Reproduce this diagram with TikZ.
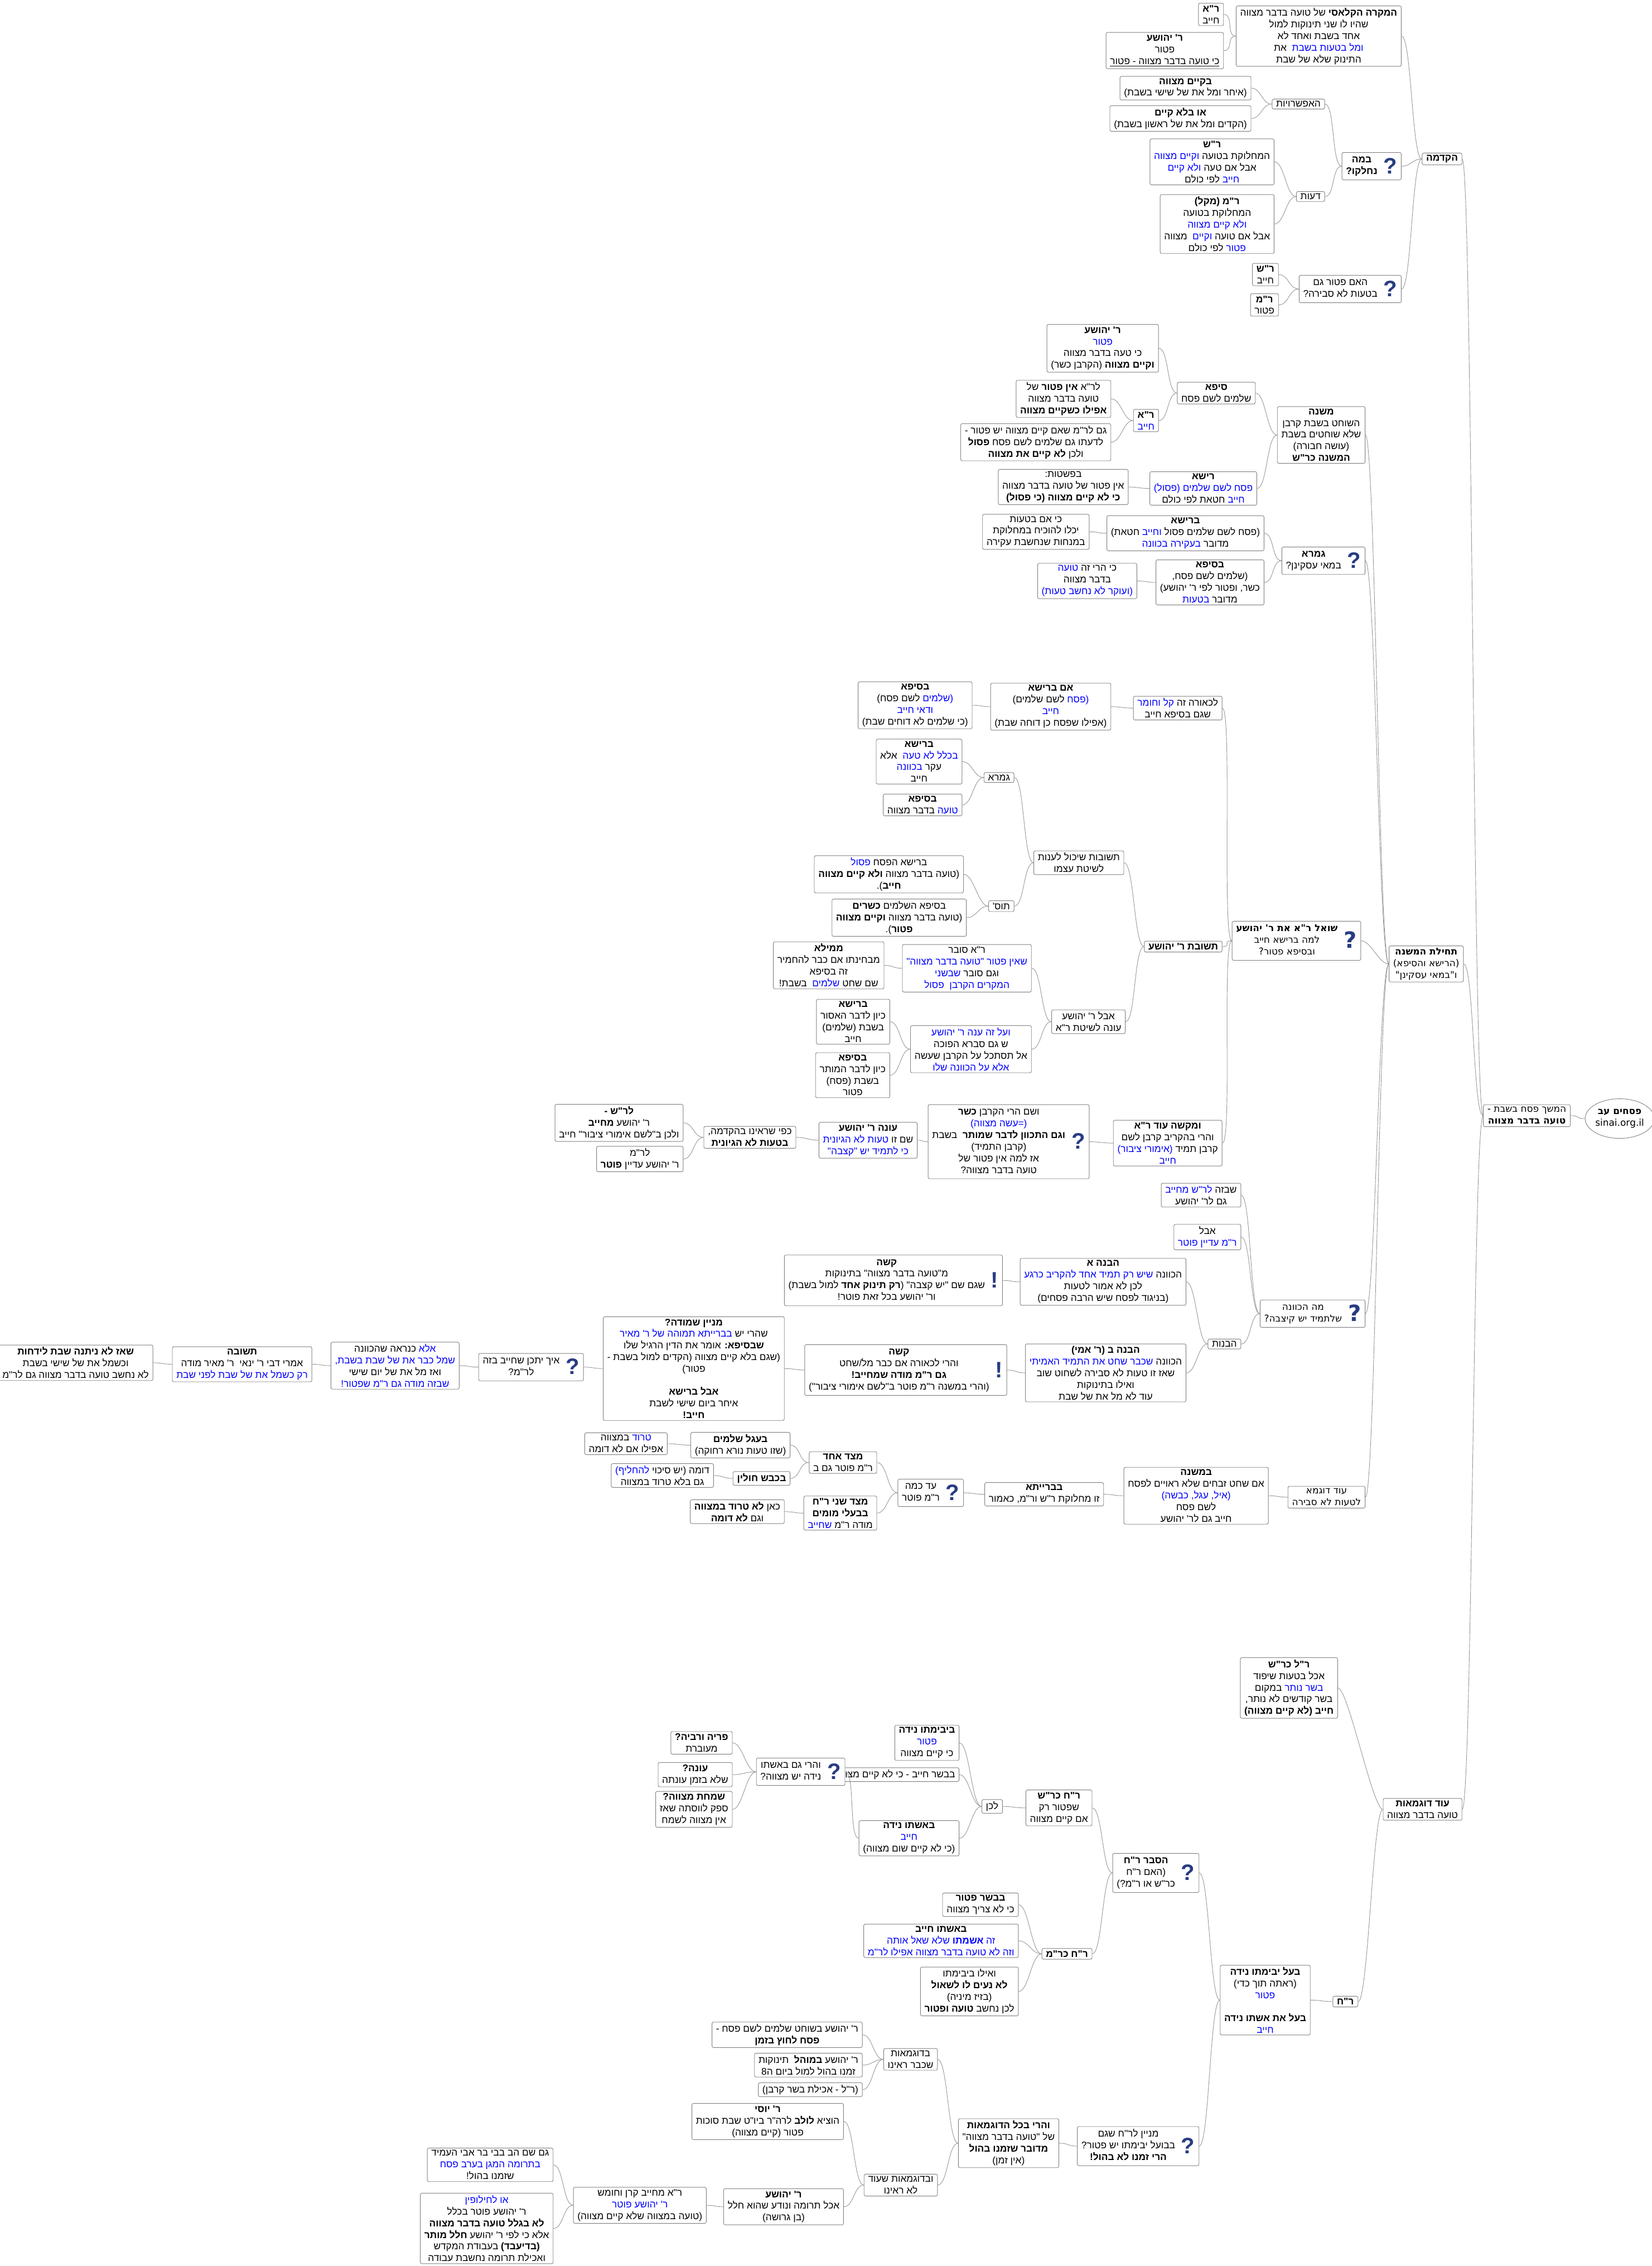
\documentclass[tikz,border=0pt]{standalone}
\usepackage{fontspec}
\usepackage{xcolor}
\usetikzlibrary{shapes.geometric}
\newfontfamily\hebfont[Script=Hebrew]{Liberation Sans}
\newfontfamily\spinefont[Script=Hebrew]{DejaVu Sans}
\TeXXeTstate=1
\definecolor{MapBlue}{RGB}{0,0,255}
\definecolor{BoxGray}{RGB}{128,128,128}
\definecolor{LinkGray}{RGB}{150,150,150}
\definecolor{IconBlue}{RGB}{40,60,130}
% one right-to-left run; a blue run is coloured outside the run
\newcommand\R[1]{\beginR#1\endR}
\newcommand\B[1]{\textcolor{MapBlue}{\R{#1}}}
\newcommand\qm{\raisebox{-5pt}{\fontsize{22}{22}\selectfont\bfseries\color{IconBlue}?}}
\newcommand\ex{\raisebox{-5pt}{\fontsize{22}{22}\selectfont\bfseries\color{IconBlue}!}}
\newcommand\ibox[2]{\begin{tabular}{@{}c@{}}#1\end{tabular}\hspace{6pt}#2}
\tikzset{
  mapnode/.style={draw=BoxGray,line width=0.5pt,rounded corners=1.5pt,fill=white,align=center,anchor=east,inner xsep=4pt,inner ysep=2pt,font=\hebfont\fontsize{9.5}{11.5}\selectfont},
  spinenode/.style={mapnode,font=\spinefont\fontsize{9.3}{11.5}\selectfont},
  rootnode/.style={ellipse,draw=BoxGray,line width=0.5pt,fill=white,align=center,inner sep=0pt,minimum width=43,minimum height=39,font=\spinefont\fontsize{9.3}{11.5}\selectfont},
  link/.style={draw=LinkGray,line width=0.5pt}
}
\begin{document}
\begin{tikzpicture}[x=0.05cm,y=-0.05cm]
\useasboundingbox (0,0) rectangle (1143,1568);

% spine
\node[rootnode] (root) at (1121,774) {\textbf{\R{פסחים עב}}\\sinai.org.il};
\node[spinenode] (hemshech) at (1087,772) {\R{המשך פסח בשבת -}\\\R{\textbf{טועה בדבר מצווה}}};

% hakdama
\node[mapnode] (hakdama) at (1012,110) {\R{\textbf{הקדמה}}};
\node[mapnode] (mikre) at (970,25) {\R{\textbf{המקרה הקלאסי} של טועה בדבר מצווה}\\\R{שהיו לו שני תינוקות למול}\\\R{אחד בשבת ואחד לא}\\\R{את}\ \ \B{ומל בטעות בשבת}\\\R{התינוק שלא של שבת}};
\node[mapnode] (rachayav) at (847,10) {\R{\textbf{ר"א}}\\\R{חייב}};
\node[mapnode] (rypatur) at (847,35) {\R{\textbf{ר' יהושע}}\\\R{פטור}\\\underline{\R{כי טועה בדבר מצווה - פטור}}};
\node[mapnode] (bama) at (970,115) {\ibox{\R{\textbf{במה}}\\\R{\textbf{נחלקו?}}}{\qm}};
\node[mapnode] (efsharuyot) at (917,72) {\R{האפשרויות}};
\node[mapnode] (bekiyum) at (866,61) {\R{\textbf{בקיים מצווה}}\\\R{(איחר ומל את של שישי בשבת)}};
\node[mapnode] (belokiyum) at (866,82) {\R{\textbf{או בלא קיים}}\\\R{(הקדים ומל את של ראשון בשבת)}};
\node[mapnode] (deot) at (917,136) {\R{דעות}};
\node[mapnode] (rshdeot) at (882,112) {\R{\textbf{ר"ש}}\\\B{וקיים מצווה} \R{המחלוקת בטועה}\\\B{ולא קיים} \R{אבל אם טעה}\\\R{לפי כולם} \B{חייב}};
\node[mapnode] (rmdeot) at (882,155) {\R{\textbf{ר"מ (מקל)}}\\\R{המחלוקת בטועה}\\\B{ולא קיים מצווה}\\\R{מצווה}\ \ \B{וקיים} \R{אבל אם טועה}\\\R{לפי כולם} \B{פטור}};
\node[mapnode] (haim) at (970,200) {\ibox{\R{האם פטור גם}\\\R{בטעות לא סבירה?}}{\qm}};
\node[mapnode] (rshchayav) at (885,190) {\R{\textbf{ר"ש}}\\\R{חייב}};
\node[mapnode] (rmpatur) at (885,211) {\R{\textbf{ר"מ}}\\\R{פטור}};

% techilat hamishna
\node[spinenode] (techila) at (1013,667) {\R{\textbf{תחילת המשנה}}\\\R{(הרישא והסיפא)}\\\R{ו"במאי עסקינן"}};
\node[mapnode] (mishna) at (945,301) {\R{\textbf{משנה}}\\\R{השוחט בשבת קרבן}\\\R{שלא שוחטים בשבת}\\\R{(עושה חבורה)}\\\R{\textbf{המשנה כר"ש}}};
\node[mapnode] (seifa) at (869,272) {\R{\textbf{סיפא}}\\\R{שלמים לשם פסח}};
\node[mapnode] (ryseifa) at (802,241) {\R{\textbf{ר' יהושע}}\\\B{פטור}\\\R{כי טעה בדבר מצווה}\\\R{\textbf{וקיים מצווה} (הקרבן כשר)}};
\node[mapnode] (raseifa) at (802,291) {\R{\textbf{ר"א}}\\\B{חייב}};
\node[mapnode] (lera) at (769,276) {\R{לר"א \textbf{אין פטור} של}\\\R{טועה בדבר מצווה}\\\R{\textbf{אפילו כשקיים מצווה}}};
\node[mapnode] (gamlerm) at (769,306) {\R{גם לר"מ שאם קיים מצווה יש פטור -}\\\R{לדעתו גם שלמים לשם פסח \textbf{פסול}}\\\R{ולכן \textbf{לא קיים את מצווה}}};
\node[mapnode] (reisha) at (870,338) {\R{\textbf{רישא}}\\\B{פסח לשם שלמים (פסול)}\\\R{חטאת לפי כולם} \B{חייב}};
\node[mapnode] (bifshatut) at (781,337) {\R{בפשטות:}\\\R{אין פטור של טועה בדבר מצווה}\\\R{\textbf{כי לא קיים מצווה (כי פסול)}}};
\node[mapnode] (gemara) at (945,388) {\ibox{\R{\textbf{גמרא}}\\\R{במאי עסקינן?}}{\qm}};
\node[mapnode] (bereishag) at (875,369) {\R{\textbf{ברישא}}\\\R{חטאת)} \B{וחייב} \R{(פסח לשם שלמים פסול}\\\B{בעקירה בכוונה} \R{מדובר}};
\node[mapnode] (kiim) at (754,368) {\R{כי אם בטעות}\\\R{יכלו להוכיח במחלוקת}\\\R{במנחות שנחשבת עקירה}};
\node[mapnode] (beseifag) at (875,403) {\R{\textbf{בסיפא}}\\\R{(שלמים לשם פסח,}\\\R{כשר, ופטור לפי ר' יהושע)}\\\B{בטעות} \R{מדובר}};
\node[mapnode] (kiharei) at (787,402) {\B{טועה} \R{כי הרי זה}\\\R{בדבר מצווה}\\\B{(ועוקר לא נחשב טעות)}};

% shoel
\node[spinenode] (shoel) at (942,651) {\ibox{\R{\textbf{שואל ר"א את ר' יהושע}}\\\R{למה ברישא חייב}\\\R{ובסיפא פטור?}}{\qm}};
\node[mapnode] (lichora) at (846,490) {\B{קל וחומר} \R{לכאורה זה}\\\R{שגם בסיפא חייב}};
\node[mapnode] (imbereisha) at (769,489) {\R{\textbf{אם ברישא}}\\\R{לשם שלמים)} \B{(פסח}\\\B{חייב}\\\R{(אפילו שפסח כן דוחה שבת)}};
\node[mapnode] (beseifavadai) at (673,488) {\R{\textbf{בסיפא}}\\\R{לשם פסח)} \B{(שלמים}\\\B{ודאי חייב}\\\R{(כי שלמים לא דוחים שבת)}};
\node[mapnode] (teshuvatry) at (846,655) {\R{\textbf{תשובת ר' יהושע}}};
\node[mapnode] (teshuvot) at (778,597) {\R{תשובות שיכול לענות}\\\R{לשיטת עצמו}};
\node[mapnode] (gemarab) at (702,538) {\R{גמרא}};
\node[mapnode] (bereishab) at (666,527) {\R{\textbf{ברישא}}\\\R{אלא}\ \ \B{בכלל לא טעה}\\\B{בכוונה} \R{עקר}\\\R{חייב}};
\node[mapnode] (beseifab) at (666,557) {\R{\textbf{בסיפא}}\\\R{בדבר מצווה} \B{טועה}};
\node[mapnode] (tosafot) at (702,627) {\R{תוס'}};
\node[mapnode] (berishtos) at (667,605) {\B{פסול} \R{ברישא הפסח}\\\R{(טועה בדבר מצווה \textbf{ולא קיים מצווה}}\\\R{\textbf{חייב}).}};
\node[mapnode] (beseifatos) at (669,635) {\R{בסיפא השלמים \textbf{כשרים}}\\\R{(טועה בדבר מצווה \textbf{וקיים מצווה}}\\\R{\textbf{פטור}).}};
\node[mapnode] (avalry) at (779,707) {\R{אבל ר' יהושע}\\\R{עונה לשיטת ר"א}};
\node[mapnode] (rasover) at (714,670) {\R{ר"א סובר}\\\B{שאין פטור "טועה בדבר מצווה"}\\\B{שבשני} \R{וגם סובר}\\\B{המקרים הקרבן\ \ פסול}};
\node[mapnode] (mimeila) at (612,668) {\R{\textbf{ממילא}}\\\R{מבחינתו אם כבר להחמיר}\\\R{זה בסיפא}\\\R{בשבת!}\ \ \B{שלמים} \R{שם שחט}};
\node[mapnode] (vealze) at (714,726) {\B{ועל זה ענה ר' יהושע}\\\R{ש גם סברא הפוכה}\\\R{אל תסתכל על הקרבן שעשה}\\\B{אלא על הכוונה שלו}};
\node[mapnode] (bereishakivun) at (616,707) {\R{\textbf{ברישא}}\\\R{כיון לדבר האסור}\\\R{בשבת (שלמים)}\\\R{חייב}};
\node[mapnode] (beseifakivun) at (616,744) {\R{\textbf{בסיפא}}\\\R{כיון לדבר המותר}\\\R{בשבת (פסח)}\\\R{פטור}};
\node[mapnode] (umakshe) at (846,791) {\R{\textbf{ומקשה עוד ר"א}}\\\R{והרי בהקריב קרבן לשם}\\\B{(אימורי ציבור)} \R{קרבן תמיד}\\\B{חייב}};
\node[mapnode] (veshamharei) at (754,790) {\ibox{\R{ושם הרי הקרבן \textbf{כשר}}\\\B{(=עשה מצווה)}\\\R{\textbf{וגם התכוון לדבר שמותר}\ \ בשבת}\\\R{(קרבן התמיד)}\\\R{אז למה אין פטור של}\\\R{טועה בדבר מצווה?}}{\qm}};
\node[mapnode] (onery) at (635,789) {\R{\textbf{עונה ר' יהושע}}\\\B{טעות לא הגיונית} \R{שם זו}\\\B{כי לתמיד יש "קצבה"}};
\node[mapnode] (kfi) at (551,787) {\R{כפי שראינו בהקדמה,}\\\R{\textbf{בטעות לא הגיונית}}};
\node[mapnode] (lersh) at (473,777) {\R{\textbf{לר"ש -}}\\\R{ר' יהושע \textbf{מחייב}}\\\R{ולכן ב"לשם אימורי ציבור" חייב}};
\node[mapnode] (lerm) at (473,802) {\R{לר"מ}\\\R{ר' יהושע עדיין \textbf{פוטר}}};

% ma hakavana
\node[spinenode] (makavana) at (945,909) {\ibox{\R{מה הכוונה}\\\R{שלתמיד יש קיצבה?}}{\qm}};
\node[mapnode] (shebaze) at (859,827) {\B{לר"ש מחייב} \R{שבזה}\\\R{גם לר' יהושע}};
\node[mapnode] (avalrm) at (859,856) {\R{אבל}\\\B{ר"מ עדיין פוטר}};
\node[mapnode] (havanot) at (859,930) {\R{הבנות}};
\node[mapnode] (havanaa) at (821,887) {\R{\textbf{הבנה א}}\\\B{שיש רק תמיד אחד להקריב כרגע} \R{הכוונה}\\\R{לכן לא אמור לטעות}\\\R{(בניגוד לפסח שיש הרבה פסחים)}};
\node[mapnode] (kashea) at (694,886) {\ibox{\R{\textbf{קשה}}\\\R{מ"טועה בדבר מצווה" בתינוקות}\\\R{שגם שם "יש קצבה" (\textbf{רק תינוק אחד} למול בשבת)}\\\R{ור' יהושע בכל זאת פוטר!}}{\ex}};
\node[mapnode] (havanab) at (821,950) {\R{\textbf{הבנה ב (ר' אמי)}}\\\B{שכבר שחט את התמיד האמיתי} \R{הכוונה}\\\R{שאז זו טעות לא סבירה לשחוט שוב}\\\R{ואילו בתינוקות}\\\R{עוד לא מל את של שבת}};
\node[mapnode] (kasheb) at (697,948) {\ibox{\R{\textbf{קשה}}\\\R{והרי לכאורה אם כבר מל/שחט}\\\R{\textbf{גם ר"מ מודה שמחייב!}}\\\R{(והרי במשנה ר"מ פוטר ב"לשם אימורי ציבור")}}{\ex}};
\node[mapnode] (minayin) at (543,947) {\R{\textbf{מניין שמודה?}}\\\B{בברייתא תמוהה של ר' מאיר} \R{שהרי יש}\\\R{\textbf{שבסיפא:} אומר את הדין הרגיל שלו}\\\R{(שגם בלא קיים מצווה (הקדים למול בשבת -}\\\R{פטור)}\\[11pt]\R{\textbf{אבל ברישא}}\\\R{איחר ביום שישי לשבת}\\\R{\textbf{חייב!}}};
\node[mapnode] (eich) at (404,946) {\ibox{\R{איך יתכן שחייב בזה}\\\R{לר"מ?}}{\qm}};
\node[mapnode] (ela) at (318,945) {\R{כנראה שהכוונה} \B{אלא}\\\B{שמל כבר את של שבת בשבת,}\\\R{ואז מל את של יום שישי}\\\B{שבזה מודה גם ר"מ שפטור!}};
\node[mapnode] (teshuva) at (216,944) {\R{\textbf{תשובה}}\\\R{אמרי דבי ר' ינאי\ \ ר' מאיר מודה}\\\B{רק כשמל את של שבת לפני שבת}};
\node[mapnode] (sheaz) at (106,943) {\R{\textbf{שאז לא ניתנה שבת לידחות}}\\\R{וכשמל את של שישי בשבת}\\\R{לא נחשב טועה בדבר מצווה גם לר"מ}};

% od dugma
\node[spinenode] (oddugma) at (945,1036) {\R{עוד דוגמא}\\\R{לטעות לא סבירה}};
\node[mapnode] (bamishna) at (878,1035) {\R{\textbf{במשנה}}\\\R{אם שחט זבחים שלא ראויים לפסח}\\\B{(איל, עגל, כבשה)}\\\R{לשם פסח}\\\R{חייב גם לר' יהושע}};
\node[mapnode] (babraita) at (764,1034) {\R{\textbf{בברייתא}}\\\R{זו מחלוקת ר"ש ור"מ, כאמור}};
\node[mapnode] (adkama) at (667,1033) {\ibox{\R{עד כמה}\\\R{ר"מ פוטר}}{\qm}};
\node[mapnode] (mitzadechad) at (607,1012) {\R{\textbf{מצד אחד}}\\\R{ר"מ פוטר גם ב}};
\node[mapnode] (mitzadsheni) at (607,1047) {\R{\textbf{מצד שני ר"ח}}\\\R{\textbf{בבעלי מומים}}\\\B{שחייב} \R{מודה ר"מ}};
\node[mapnode] (beegel) at (547,1000) {\R{\textbf{בעגל שלמים}}\\\R{(שזו טעות נורא רחוקה)}};
\node[mapnode] (bekeves) at (547,1023) {\R{\textbf{בכבש חולין}}};
\node[mapnode] (tarud) at (462,999) {\R{במצווה} \B{טרוד}\\\R{אפילו אם לא דומה}};
\node[mapnode] (dome) at (494,1021) {\B{להחליף)} \R{דומה (יש סיכוי}\\\R{גם בלא טרוד במצווה}};
\node[mapnode] (kan) at (543,1046) {\R{כאן \textbf{לא טרוד במצווה}}\\\R{וגם \textbf{לא דומה}}};

% od dugmaot
\node[mapnode] (oddugmaot) at (1012,1252) {\R{\textbf{עוד דוגמאות}}\\\R{טועה בדבר מצווה}};
\node[mapnode] (rl) at (926,1168) {\R{\textbf{ר"ל כר"ש}}\\\R{אכל בטעות שיפוד}\\\R{במקום} \B{בשר נותר}\\\R{בשר קודשים לא נותר,}\\\R{\textbf{חייב (לא קיים מצווה)}}};
\node[mapnode] (rch) at (940,1385) {\R{\textbf{ר"ח}}};
\node[mapnode] (baal) at (907,1384) {\R{\textbf{בעל יבימתו נידה}}\\\R{(ראתה תוך כדי)}\\\B{פטור}\\[11pt]\R{\textbf{בעל את אשתו נידה}}\\\B{חייב}};
\node[mapnode] (hesber) at (830,1296) {\ibox{\R{\textbf{הסבר ר"ח}}\\\R{(האם ר"ח}\\\R{כר"ש או ר"מ?)}}{\qm}};
\node[mapnode] (rchkrsh) at (756,1251) {\R{\textbf{ר"ח כר"ש}}\\\R{שפטור רק}\\\R{אם קיים מצווה}};
\node[mapnode] (lachen) at (694,1250) {\R{לכן}};
\node[mapnode] (bivimto) at (664,1206) {\R{\textbf{ביבימתו נידה}}\\\B{פטור}\\\R{כי קיים מצווה}};
\node[mapnode] (bebasarchayav) at (664,1228) {\R{בבשר חייב - כי לא קיים מצווה}};
\node[mapnode] (beishto) at (664,1272) {\R{\textbf{באשתו נידה}}\\\B{חייב}\\\R{(כי לא קיים שום מצווה)}};
\node[mapnode] (vahareigam) at (585,1226) {\ibox{\R{והרי גם באשתו}\\\R{נידה יש מצווה?}}{\qm}};
\node[mapnode] (pria) at (507,1206) {\R{\textbf{פריה ורביה?}}\\\R{מעוברת}};
\node[mapnode] (ona) at (507,1228) {\R{\textbf{עונה?}}\\\R{שלא בזמן עונתה}};
\node[mapnode] (simcha) at (507,1252) {\R{\textbf{שמחת מצווה?}}\\\R{ספק לווסתה שאז}\\\R{אין מצווה לשמח}};
\node[mapnode] (rchkrm) at (756,1352) {\R{\textbf{ר"ח כר"מ}}};
\node[mapnode] (bebasarpatur) at (705,1318) {\R{\textbf{בבשר פטור}}\\\R{כי לא צריך מצווה}};
\node[mapnode] (beishtochayav) at (705,1343) {\R{\textbf{באשתו חייב}}\\\B{זה \textbf{אשמתו} שלא שאל אותה}\\\B{וזה לא טועה בדבר מצווה אפילו לר"מ}};
\node[mapnode] (veilu) at (705,1378) {\R{ואילו ביבימתו}\\\R{\textbf{לא נעים לו לשאול}}\\\R{(בזיז מיניה)}\\\R{לכן נחשב \textbf{טועה ופטור}}};
\node[mapnode] (minayinrch) at (830,1485) {\ibox{\R{מניין לר"ח שגם}\\\R{בבועל יבימתו יש פטור?}\\\R{\textbf{הרי זמנו לא בהול!}}}{\qm}};
\node[mapnode] (vahareikol) at (733,1483) {\R{\textbf{והרי בכל הדוגמאות}}\\\R{של "טועה בדבר מצווה"}\\\R{\textbf{מדובר שזמנו בהול}}\\\R{(אין זמן)}};
\node[mapnode] (bedugmaot) at (649,1425) {\R{בדוגמאות}\\\R{שכבר ראינו}};
\node[mapnode] (ryshochet) at (597,1408) {\R{ר' יהושע בשוחט שלמים לשם פסח -}\\\R{\textbf{פסח לחוץ בזמן}}};
\node[mapnode] (rymohel) at (597,1429) {\R{ר' יהושע \textbf{במוהל}\ \ תינוקות}\\\R{זמנו בהול למול ביום ה8}};
\node[mapnode] (rlachila) at (597,1446) {\R{(ר"ל - אכילת בשר קרבן)}};
\node[mapnode] (uvedugmaot) at (649,1512) {\R{ובדוגמאות שעוד}\\\R{לא ראינו}};
\node[mapnode] (ryosi) at (584,1468) {\R{\textbf{ר' יוסי}}\\\R{הוציא \textbf{לולב} לרה"ר ביו"ט שבת סוכות}\\\R{פטור (קיים מצווה)}};
\node[mapnode] (rytruma) at (584,1527) {\R{\textbf{ר' יהושע}}\\\R{אכל תרומה ונודע שהוא חלל}\\\R{(בן גרושה)}};
\node[mapnode] (rakeren) at (489,1526) {\R{ר"א מחייב קרן וחומש}\\\B{ר' יהושע פוטר}\\\R{(טועה במצווה שלא קיים מצווה)}};
\node[mapnode] (gamsham) at (383,1498) {\R{גם שם הב בבי בר אבי העמיד}\\\B{בתרומה המגן בערב פסח}\\\R{שזמנו בהול!}};
\node[mapnode] (lechilufin) at (383,1542) {\B{או לחילופין}\\\R{ר' יהושע פוטר בכלל}\\\R{\textbf{לא בגלל טועה בדבר מצווה}}\\\R{אלא כי לפי ר' יהושע \textbf{חלל מותר}}\\\R{\textbf{(בדיעבד)} בעבודת המקדש}\\\R{ואכילת תרומה נחשבת עבודה}};

% connectors
\foreach \p/\c in {root/hemshech,hemshech/hakdama,hemshech/techila,hemshech/oddugmaot,
  hakdama/mikre,hakdama/bama,hakdama/haim,mikre/rachayav,mikre/rypatur,
  bama/efsharuyot,bama/deot,efsharuyot/bekiyum,efsharuyot/belokiyum,deot/rshdeot,deot/rmdeot,
  haim/rshchayav,haim/rmpatur,
  techila/mishna,techila/gemara,techila/shoel,techila/makavana,techila/oddugma,
  mishna/seifa,mishna/reisha,seifa/ryseifa,seifa/raseifa,raseifa/lera,raseifa/gamlerm,reisha/bifshatut,
  gemara/bereishag,gemara/beseifag,bereishag/kiim,beseifag/kiharei,
  shoel/lichora,shoel/teshuvatry,shoel/umakshe,lichora/imbereisha,imbereisha/beseifavadai,
  teshuvatry/teshuvot,teshuvatry/avalry,teshuvot/gemarab,teshuvot/tosafot,
  gemarab/bereishab,gemarab/beseifab,tosafot/berishtos,tosafot/beseifatos,
  avalry/rasover,avalry/vealze,rasover/mimeila,vealze/bereishakivun,vealze/beseifakivun,
  umakshe/veshamharei,veshamharei/onery,onery/kfi,kfi/lersh,kfi/lerm,
  makavana/shebaze,makavana/avalrm,makavana/havanot,havanot/havanaa,havanot/havanab,
  havanaa/kashea,havanab/kasheb,kasheb/minayin,minayin/eich,eich/ela,ela/teshuva,teshuva/sheaz,
  oddugma/bamishna,bamishna/babraita,babraita/adkama,adkama/mitzadechad,adkama/mitzadsheni,
  mitzadechad/beegel,mitzadechad/bekeves,beegel/tarud,bekeves/dome,mitzadsheni/kan,
  oddugmaot/rl,oddugmaot/rch,rch/baal,baal/hesber,baal/minayinrch,
  hesber/rchkrsh,hesber/rchkrm,rchkrsh/lachen,lachen/bivimto,lachen/bebasarchayav,lachen/beishto,
  beishto/vahareigam,vahareigam/pria,vahareigam/ona,vahareigam/simcha,
  rchkrm/bebasarpatur,rchkrm/beishtochayav,rchkrm/veilu,
  minayinrch/vahareikol,vahareikol/bedugmaot,vahareikol/uvedugmaot,
  bedugmaot/ryshochet,bedugmaot/rymohel,bedugmaot/rlachila,
  uvedugmaot/ryosi,uvedugmaot/rytruma,rytruma/rakeren,rakeren/gamsham,rakeren/lechilufin}
  \draw[link] (\p.west) .. controls +(-7,0) and +(7,0) .. (\c.east);
\end{tikzpicture}
\end{document}
